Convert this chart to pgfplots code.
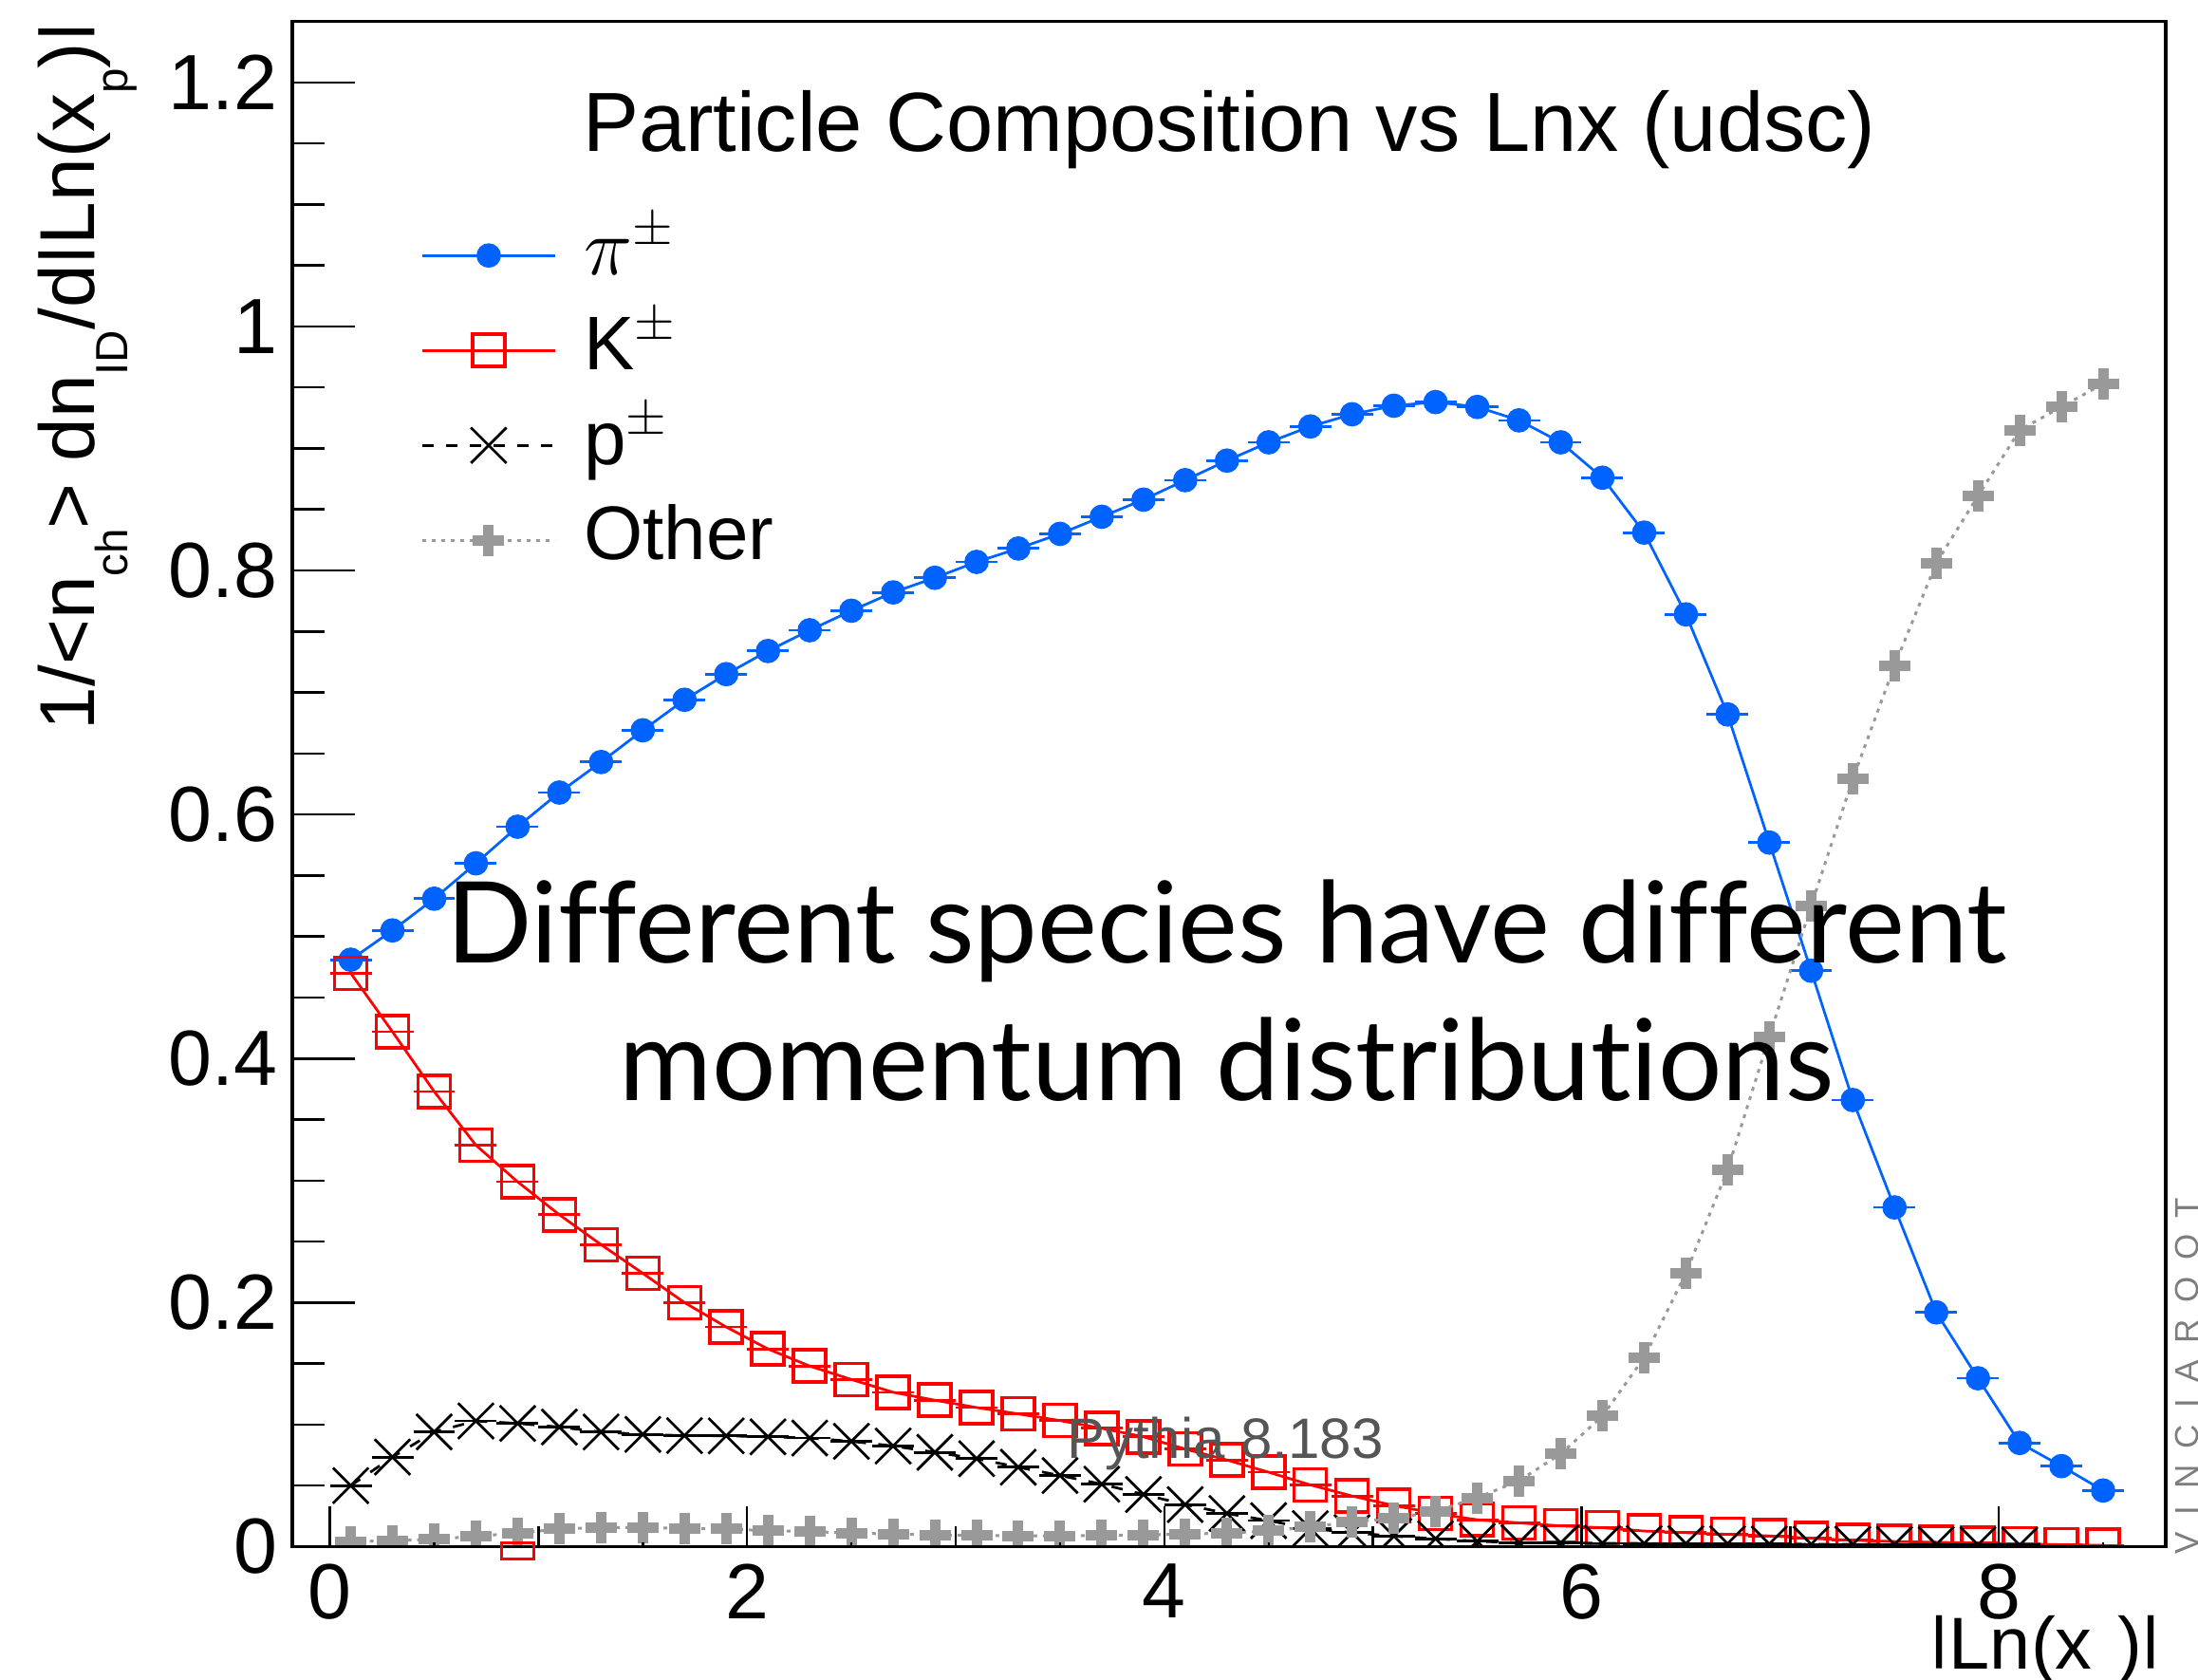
\documentclass[border=0pt]{standalone}
\usepackage{fontspec}
\setmainfont{Liberation Sans}
\newfontfamily\latofont[Ligatures=NoCommon]{Lato}
\usepackage{graphicx}
\usepackage{pgfplots}
\pgfplotsset{compat=1.18}
\definecolor{piblue}{RGB}{0,98,255}
\definecolor{othergray}{RGB}{153,153,153}
\definecolor{pygray}{RGB}{85,85,85}
\definecolor{vgray}{RGB}{125,125,125}
\newcommand{\rsub}[1]{\raisebox{-6.8pt}{\fontsize{9.5}{9.5}\selectfont #1}}
\newcommand{\vbar}{\raisebox{0.16em}{\scalebox{1}[0.77]{|}}}
\newcommand{\ls}{\hspace{3.5pt}}
\begin{document}
\begin{tikzpicture}[x=1pt,y=1pt]
\pgfplotsset{
  common/.style={
    at={(61.6pt,27.9pt)}, anchor=south west,
    scale only axis, width=394.8pt, height=321.4pt,
    xmin=-0.18, xmax=8.8, ymin=0, ymax=1.25,
    axis on top,
    axis line style={line width=0.65pt},
    tick align=inside, tick pos=left,
    every tick/.style={black, line width=0.5pt},
    /pgf/number format/assume math mode=true,
  }
}
% main axis: y ticks and data
\begin{axis}[common,
  clip marker paths=true,
  xtick=\empty,
  ytick={0,0.2,0.4,0.6,0.8,1,1.2},
  minor y tick num=3,
  major tick length=13.1pt, minor tick length=6.7pt,
  yticklabel style={font=\fontsize{16.5}{16.5}\selectfont, inner sep=0pt, xshift=-3pt},
  legend style={draw=none, fill=none, at={(0.0681,0.872)}, anchor=north west,
    font=\fontsize{16}{16}\selectfont, inner sep=0pt, row sep=4pt, column sep=5.8pt,
    nodes={inner sep=0pt, text height=12pt, text depth=4pt}},
  legend cell align=left,
  legend image code/.code={\draw[mark repeat=2,mark phase=2] plot coordinates {(0pt,0pt) (14pt,0pt) (28pt,0pt)};},
]
\addplot[color=piblue, line width=0.55pt, mark=*, mark size=2.3pt, mark options={solid, fill=piblue},
  error bars/.cd, x dir=both, x fixed=0.1, error mark=none, error bar style={line width=0.55pt, solid}]
table {
x y
0.1 0.481
0.3 0.505
0.5 0.531
0.7 0.560
0.9 0.590
1.1 0.618
1.3 0.643
1.5 0.669
1.7 0.694
1.9 0.715
2.1 0.734
2.3 0.751
2.5 0.767
2.7 0.782
2.9 0.794
3.1 0.807
3.3 0.818
3.5 0.830
3.7 0.844
3.9 0.858
4.1 0.874
4.3 0.890
4.5 0.905
4.7 0.918
4.9 0.928
5.1 0.935
5.3 0.938
5.5 0.934
5.7 0.923
5.9 0.905
6.1 0.876
6.3 0.831
6.5 0.764
6.7 0.682
6.9 0.577
7.1 0.472
7.3 0.366
7.5 0.278
7.7 0.192
7.9 0.138
8.1 0.085
8.3 0.066
8.5 0.046
};
\addlegendentry{$\pi^{\pm}$}
\addplot[color=red, line width=0.55pt, mark=square, mark size=3.4pt, mark options={solid, line width=0.7pt},
  error bars/.cd, x dir=both, x fixed=0.1, error mark=none, error bar style={line width=0.55pt, solid}]
table {
x y
0.1 0.470
0.3 0.422
0.5 0.373
0.7 0.329
0.9 0.299
1.1 0.272
1.3 0.2475
1.5 0.224
1.7 0.200
1.9 0.180
2.1 0.162
2.3 0.148
2.5 0.137
2.7 0.1265
2.9 0.120
3.1 0.114
3.3 0.1088
3.5 0.1033
3.7 0.097
3.9 0.090
4.1 0.080
4.3 0.071
4.5 0.061
4.7 0.0506
4.9 0.0415
5.1 0.0337
5.3 0.0272
5.5 0.022
5.7 0.0195
5.9 0.017
6.1 0.0155
6.3 0.0128
6.5 0.0114
6.7 0.0101
6.9 0.0088
7.1 0.0068
7.3 0.0052
7.5 0.0042
7.7 0.0036
7.9 0.0029
8.1 0.0022
8.3 0.0016
8.5 0.0011
};
\addlegendentry{K$^{\pm}$}
\addplot[color=black, line width=0.55pt, dash pattern=on 2.4pt off 2.6pt, mark=x, mark size=5.3pt, mark options={solid, line width=0.55pt},
  error bars/.cd, x dir=both, x fixed=0.1, error mark=none, error bar style={line width=0.55pt, solid}]
table {
x y
0.1 0.050
0.3 0.0734
0.5 0.094
0.7 0.103
0.9 0.101
1.1 0.098
1.3 0.094
1.5 0.092
1.7 0.091
1.9 0.0908
2.1 0.090
2.3 0.089
2.5 0.0863
2.7 0.0825
2.9 0.0773
3.1 0.0721
3.3 0.0651
3.5 0.0583
3.7 0.0512
3.9 0.0428
4.1 0.0345
4.3 0.0272
4.5 0.0213
4.7 0.0148
4.9 0.0115
5.1 0.0086
5.3 0.0065
5.5 0.0044
5.7 0.0032
5.9 0.0030
6.1 0.0028
6.3 0.0026
6.5 0.0025
6.7 0.0024
6.9 0.0022
7.1 0.0020
7.3 0.0020
7.5 0.0018
7.7 0.0017
7.9 0.0015
8.1 0.0013
};
\addlegendentry{p$^{\pm}$}
\addplot[color=othergray, line width=0.6pt, dash pattern=on 0.8pt off 1.2pt, mark=+, mark size=3.3pt, mark options={solid, line width=2.2pt}]
table {
x y
0.1 0.004
0.3 0.005
0.5 0.006
0.7 0.0086
0.9 0.011
1.1 0.0145
1.3 0.0156
1.5 0.0156
1.7 0.0150
1.9 0.0145
2.1 0.013
2.3 0.0124
2.5 0.0111
2.7 0.0104
2.9 0.0095
3.1 0.0093
3.3 0.0088
3.5 0.0088
3.7 0.0092
3.9 0.0096
4.1 0.0104
4.3 0.011
4.5 0.013
4.7 0.016
4.9 0.0205
5.1 0.023
5.3 0.029
5.5 0.040
5.7 0.054
5.9 0.076
6.1 0.107
6.3 0.155
6.5 0.224
6.7 0.309
6.9 0.418
7.1 0.525
7.3 0.629
7.5 0.722
7.7 0.806
7.9 0.861
8.1 0.915
8.3 0.934
8.5 0.953
};
\addlegendentry{Other}
\end{axis}
% overlay axis: x ticks, stray marker
\begin{axis}[common,
  clip=false,
  hide y axis,
  xtick={0,2,4,6,8},
  minor xtick={1,3,5,7},
  extra x ticks={0.5,1.5,2.5,3.5,4.5,5.5,6.5,7.5,8.5},
  extra x tick labels={},
  extra x tick style={major tick length=0.9pt},
  major tick length=8.6pt, minor tick length=4.4pt,
  xticklabel style={font=\fontsize{16.5}{16.5}\selectfont, inner sep=0pt, yshift=-3.5pt},
]
\addplot[red, only marks, mark=square, mark size=3.4pt, mark options={line width=0.7pt, yscale=0.5}] coordinates {(0.9,-0.0035)};
\end{axis}
% texts
\node[anchor=base west, inner sep=0pt, font=\fontsize{17.7}{17.7}\selectfont] at (122.6,321.9) {Particle Composition vs Lnx (udsc)};
\node[rotate=90, anchor=base east, inner sep=0pt, font=\fontsize{16.4}{16.4}\selectfont] at (20,349.3) {1/<n\rsub{ch}> dn\rsub{ID}/d\vbar Ln(x\rsub{p})\vbar};
\node[anchor=base east, inner sep=0pt, font=\fontsize{15.5}{15.5}\selectfont] at (455.6,2.2) {\vbar Ln(x\raisebox{-8pt}{\fontsize{9.5}{9.5}\selectfont p})\vbar};
\node[anchor=base, inner sep=0pt, font=\latofont\fontsize{23.8}{23.8}\selectfont] at (258.5,150.8) {Different species have different};
\node[anchor=base, inner sep=0pt, font=\latofont\fontsize{23.8}{23.8}\selectfont] at (258.5,121.9) {momentum distributions};
\node[anchor=base west, inner sep=0pt, text=pygray, font=\fontsize{12}{12}\selectfont] at (224.6,46.5) {Pythia 8.183};
\node[rotate=90, anchor=base west, inner sep=0pt, text=vgray, font=\fontsize{7}{7}\selectfont] at (463.3,26.2) {V\ls I\ls N\ls C\ls I\ls A\ls R\ls O\ls O\ls T};
\pgfresetboundingbox
\useasboundingbox (0,0) rectangle (463.2,353.8);
\end{tikzpicture}
\end{document}
